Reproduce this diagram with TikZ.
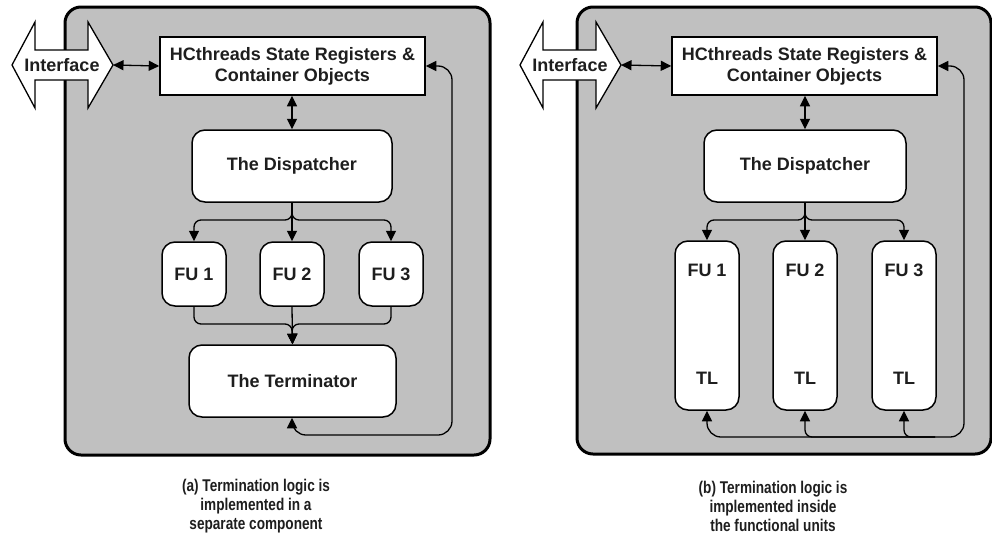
\documentclass[tikz,border=0pt]{standalone}
\usepackage{fontspec}
\setmainfont{Liberation Sans}
\usetikzlibrary{arrows.meta}
\definecolor{panelgray}{RGB}{192,192,192}
\definecolor{txt}{RGB}{30,30,30}
\tikzset{
  panel/.style={draw=black, line width=3pt, fill=panelgray, rounded corners=16pt},
  box/.style={draw=black, line width=1.5pt, fill=white, inner sep=0pt, text=txt,
    font=\bfseries\fontsize{18}{21}\selectfont, align=center},
  sqbox/.style={box},
  rbox/.style={box, rounded corners=13pt},
  lbl/.style={inner sep=0pt, text=txt, font=\bfseries\fontsize{18}{21}\selectfont},
  iface/.style={draw=black, line width=1.3pt, fill=white},
  conn/.style={draw=black, line width=1.3pt, rounded corners=7pt},
  bigconn/.style={draw=black, line width=1.3pt, rounded corners=14pt},
  tip/.style={-{Triangle[length=10.5pt,width=10pt]}},
  rtip/.style={{Triangle[length=10.5pt,width=10pt]}-},
  dtip/.style={{Triangle[length=10.5pt,width=10pt]}-{Triangle[length=10.5pt,width=10pt]}},
  captext/.style={inner sep=0pt, align=center, text=txt,
    font=\bfseries\addfontfeatures{FakeStretch=0.8}\fontsize{17}{19}\selectfont}
}
\begin{document}
\begin{tikzpicture}[x=1pt,y=-1pt]
\useasboundingbox (0,0) rectangle (992,533);

% ---------------- Panel (a) ----------------
\draw[panel] (65,7) rectangle (490,455);
\draw[iface] (12,65) -- (35,22) -- (35,50) -- (88,50) -- (88,22) -- (113,65)
   -- (88,108) -- (88,80) -- (35,80) -- (35,108) -- cycle;
\node[lbl] (aiface) at (62,65) {Interface};
\coordinate (aifaceR) at (113,65);

\node[sqbox, minimum width=265pt, minimum height=58pt] (ahc) at (292.5,66)
  {HCthreads State Registers \&\\Container Objects};
\node[rbox, minimum width=200pt, minimum height=72pt] (adisp) at (292,166) {The Dispatcher};
\node[rbox, minimum width=64pt, minimum height=64pt] (afu1) at (194,274) {FU 1};
\node[rbox, minimum width=64pt, minimum height=64pt] (afu2) at (292,274) {FU 2};
\node[rbox, minimum width=64pt, minimum height=64pt] (afu3) at (391,274) {FU 3};
\node[rbox, minimum width=207pt, minimum height=72pt] (aterm) at (292.5,381) {The Terminator};

\coordinate (asplit) at (292,220);
\coordinate (amerge) at (292,324);
\coordinate (afb) at (452,435);

\draw[conn, dtip] (aifaceR) -- (ahc.west);
\draw[conn, dtip] (ahc.south -| adisp.north) -- (adisp.north);
\draw[conn, tip] (adisp.south) -- (asplit) -| (afu1.north);
\draw[conn, tip] (adisp.south) -- (asplit) -| (afu3.north);
\draw[conn, tip] (adisp.south) -- (afu2.north);
\draw[conn, tip] (afu1.south) |- (amerge) -- (aterm.north);
\draw[conn, tip] (afu3.south) |- (amerge) -- (aterm.north);
\draw[conn, tip] (afu2.south) -- (aterm.north);
\draw[bigconn, dtip] (aterm.south -| amerge) |- (afb) |- (ahc.east);

\node[captext] (acap) at (256,506) {(a) Termination logic is\\implemented in a\\separate component};

% ---------------- Panel (b) ----------------
\draw[panel] (577,7) rectangle (991,454);
\draw[iface] (520,65) -- (543,22) -- (543,50) -- (596,50) -- (596,22) -- (621,65)
   -- (596,108) -- (596,80) -- (543,80) -- (543,108) -- cycle;
\node[lbl] (biface) at (570,65) {Interface};
\coordinate (bifaceR) at (621,65);

\node[sqbox, minimum width=265pt, minimum height=58pt] (bhc) at (804.5,66)
  {HCthreads State Registers \&\\Container Objects};
\node[rbox, minimum width=202pt, minimum height=72pt] (bdisp) at (805,166) {The Dispatcher};
\node[rbox, minimum width=64pt, minimum height=169pt] (bfu1) at (707,325.5) {};
\node[rbox, minimum width=64pt, minimum height=169pt] (bfu2) at (805,325.5) {};
\node[rbox, minimum width=64pt, minimum height=169pt] (bfu3) at (904,325.5) {};
\node[lbl] (bfu1t) at (707,270) {FU 1};
\node[lbl] (bfu2t) at (805,270) {FU 2};
\node[lbl] (bfu3t) at (904,270) {FU 3};
\node[lbl] (btl1) at (707,378) {TL};
\node[lbl] (btl2) at (805,378) {TL};
\node[lbl] (btl3) at (904,378) {TL};

\coordinate (bsplit) at (805,220);
\coordinate (bfb) at (964,437);
\coordinate (bfbin) at (935,437);

\draw[conn, dtip] (bifaceR) -- (bhc.west);
\draw[conn, dtip] (bhc.south -| bdisp.north) -- (bdisp.north);
\draw[conn, tip] (bdisp.south) -- (bsplit) -| (bfu1.north);
\draw[conn, tip] (bdisp.south) -- (bsplit) -| (bfu3.north);
\draw[conn, tip] (bdisp.south) -- (bfu2.north);
\draw[bigconn, dtip] (bfu1.south) |- (bfb) |- (bhc.east);
\draw[conn, rtip] (bfu2.south) |- (bfbin);
\draw[conn, rtip] (bfu3.south) |- (bfbin);

\node[captext] (bcap) at (773,506) {(b) Termination logic is\\implemented inside\\the functional units};
\end{tikzpicture}
\end{document}
